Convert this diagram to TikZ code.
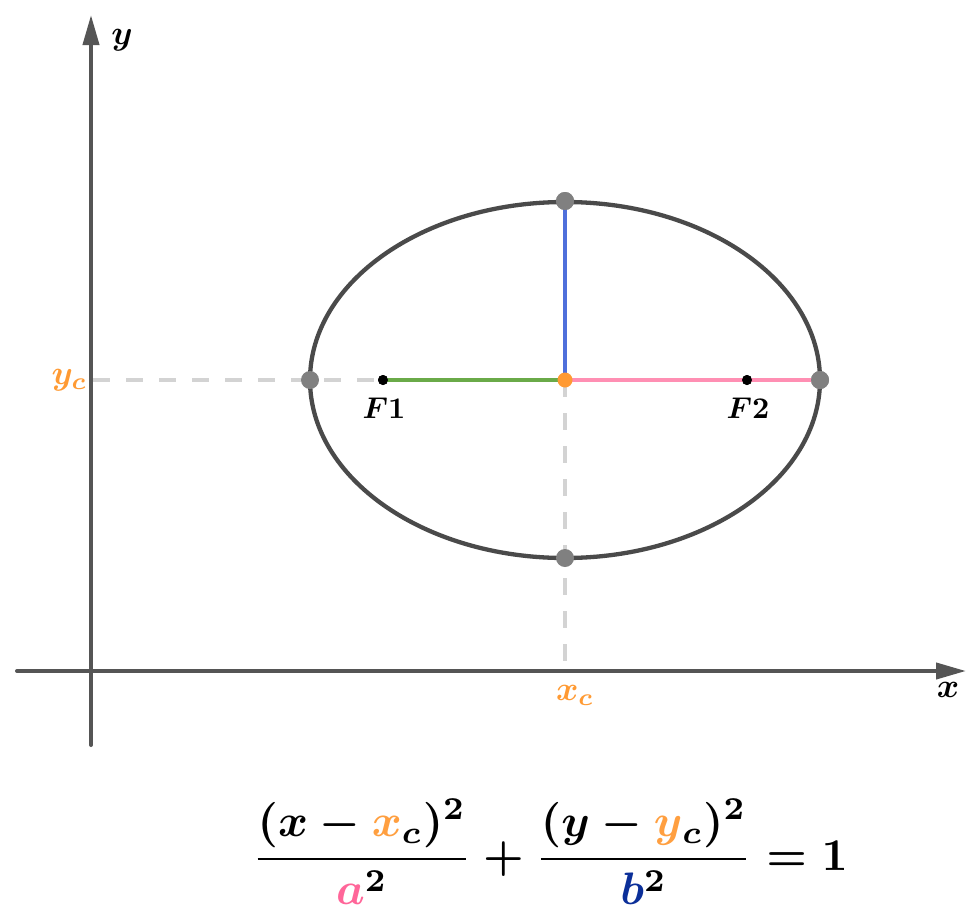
\documentclass[tikz,border=0pt]{standalone}
\usepackage{amsmath}
\usetikzlibrary{arrows.meta}
\definecolor{axisgray}{HTML}{555555}
\definecolor{ellgray}{HTML}{4A4A4A}
\definecolor{dashgray}{HTML}{D3D3D3}
\definecolor{dotgray}{HTML}{808080}
\definecolor{myblue}{HTML}{4F6FDB}
\definecolor{mygreen}{HTML}{6AAA48}
\definecolor{mypink}{HTML}{FF8FB3}
\definecolor{myorange}{HTML}{FF9A33}
\definecolor{eqorange}{HTML}{FF9F40}
\definecolor{eqpink}{HTML}{FF6699}
\definecolor{eqblue}{HTML}{0B2F99}
\begin{document}
\begin{tikzpicture}[x=1pt,y=-1pt,
  axisline/.style={draw=axisgray,line width=4pt,line cap=round,-{Triangle[length=30pt,width=16pt]}},
  guide/.style={draw=dashgray,line width=4.5pt,dash pattern=on 17pt off 16pt},
  seg/.style={line width=4pt},
  vdot/.style={circle,fill=dotgray,inner sep=0pt,minimum size=18pt},
  fdot/.style={circle,fill=black,inner sep=0pt,minimum size=10pt},
  cdot/.style={circle,fill=myorange,inner sep=0pt,minimum size=15pt},
  biglabel/.style={inner sep=0pt,font=\boldmath,scale=3.4},
  smalllabel/.style={inner sep=0pt,font=\boldmath,scale=3.0},
  eqlabel/.style={inner sep=0pt,font=\boldmath,scale=4.55}]
\useasboundingbox (0,0) rectangle (980,918);
% named points
\coordinate (ybot) at (91,745);
\coordinate (ytop) at (91,15);
\coordinate (xleft) at (17,671);
\coordinate (xright) at (966,671);
\coordinate (yaxc) at (93,380);
\coordinate (xaxc) at (565,665);
\coordinate (C) at (565,380);
% guides
\draw[guide] (yaxc) -- (383,380);
\draw[guide] (C) -- (xaxc);
% axes
\draw[axisline] (ybot) -- (ytop);
\draw[axisline] (xleft) -- (xright);
% ellipse
\draw[draw=ellgray,line width=4.3pt] (C) ellipse [x radius=255pt, y radius=178pt];
% nodes
\node[vdot] (L) at (310,380) {};
\node[vdot] (R) at (820,380) {};
\node[vdot] (T) at (565,201) {};
\node[vdot] (B) at (565,558) {};
\node[fdot] (F1) at (383,380) {};
\node[fdot] (F2) at (747,380) {};
% segments
\draw[seg,draw=myblue] (C) -- (T.center);
\draw[seg,draw=mygreen] (F1.center) -- (C);
\draw[seg,draw=mypink] (C) -- (R.center);
% redraw dots on top
\node[vdot] at (R) {};
\node[vdot] at (T) {};
\node[fdot] at (F1) {};
\node[fdot] at (F2) {};
\node[cdot] (Cd) at (C) {};
% labels
\node[biglabel] (ylab) at (122,40) {$y$};
\node[biglabel] (xlab) at (948,690) {$x$};
\node[biglabel,anchor=east,text=myorange] (yclab) at (88,380) {$y_c$};
\node[biglabel,text=myorange] (xclab) at (575,695) {$x_c$};
\node[smalllabel] (F1lab) at (384,408) {$F1$};
\node[smalllabel] (F2lab) at (748,408) {$F2$};
\node[eqlabel] (eq) at (550,852) {$\displaystyle \frac{(x-\textcolor{eqorange}{x}_c)^2}{\textcolor{eqpink}{a}^2}+\frac{(y-\textcolor{eqorange}{y}_c)^2}{\textcolor{eqblue}{b}^2}=1$};
\end{tikzpicture}
\end{document}
